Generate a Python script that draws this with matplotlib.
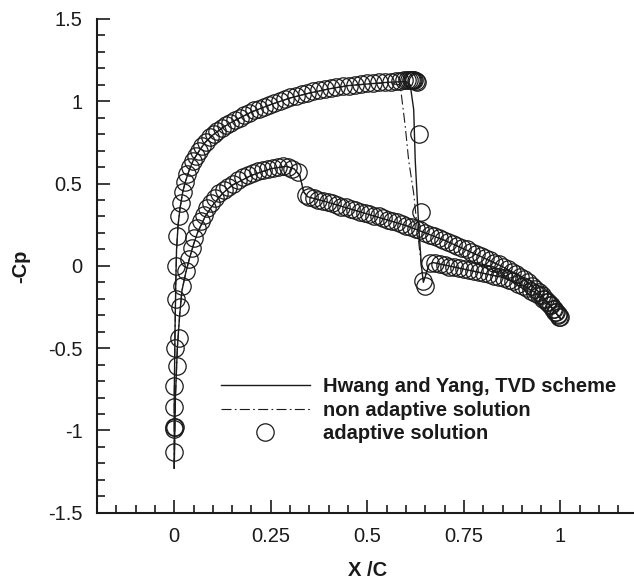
import matplotlib
matplotlib.use("Agg")
import matplotlib.pyplot as plt
from matplotlib.ticker import MultipleLocator, FixedLocator

plt.rcParams['font.family'] = ['Liberation Sans', 'DejaVu Sans']

# ---------------- data ----------------
# adaptive solution, upper (suction) surface
ad_up_x = [0.000, 0.000, 0.000, 0.002, 0.004, 0.005, 0.008, 0.012, 0.017, 0.022,
           0.028, 0.034, 0.041, 0.048, 0.056, 0.064, 0.073, 0.082, 0.092, 0.102,
           0.112, 0.123, 0.134, 0.145, 0.157, 0.169, 0.181, 0.193, 0.206, 0.219,
           0.232, 0.245, 0.259, 0.273, 0.287, 0.301, 0.315, 0.330, 0.345, 0.360,
           0.375, 0.390, 0.405, 0.420, 0.436, 0.452, 0.468, 0.484, 0.500, 0.515,
           0.530, 0.545, 0.560, 0.573, 0.585, 0.595, 0.603, 0.609, 0.613, 0.616,
           0.619, 0.622, 0.625, 0.628, 0.634, 0.639, 0.645, 0.650, 0.663, 0.675,
           0.688, 0.700, 0.712, 0.725, 0.738, 0.750, 0.763, 0.776, 0.789, 0.802,
           0.815, 0.828, 0.841, 0.854, 0.866, 0.878, 0.890, 0.902, 0.913, 0.924,
           0.935, 0.945, 0.955, 0.964, 0.972, 0.980, 0.987, 0.993, 0.997]
ad_up_cp = [-0.98, -0.86, -0.73, -0.50, -0.20, 0.00, 0.18, 0.30, 0.38, 0.45,
            0.51, 0.56, 0.60, 0.64, 0.67, 0.70, 0.73, 0.755, 0.78, 0.80,
            0.82, 0.84, 0.855, 0.87, 0.885, 0.90, 0.915, 0.93, 0.945, 0.955,
            0.965, 0.98, 0.99, 1.00, 1.015, 1.025, 1.035, 1.045, 1.05, 1.06,
            1.07, 1.075, 1.08, 1.085, 1.09, 1.095, 1.10, 1.105, 1.11, 1.112,
            1.115, 1.118, 1.12, 1.122, 1.125, 1.127, 1.128, 1.13, 1.13, 1.13,
            1.13, 1.128, 1.125, 1.12, 0.80, 0.33, -0.09, -0.12, 0.02, 0.02,
            0.01, 0.005, -0.005, -0.01, -0.015, -0.02, -0.025, -0.03, -0.04, -0.045,
            -0.05, -0.06, -0.065, -0.075, -0.085, -0.095, -0.11, -0.12, -0.135, -0.15,
            -0.165, -0.18, -0.20, -0.22, -0.24, -0.26, -0.28, -0.30, -0.31]

# adaptive solution, lower (pressure) surface
ad_lo_x = [0.000, 0.000, 0.001, 0.006, 0.012, 0.016, 0.021, 0.030, 0.038, 0.045,
           0.052, 0.060, 0.068, 0.077, 0.086, 0.096, 0.106, 0.117, 0.128, 0.140,
           0.152, 0.164, 0.177, 0.190, 0.203, 0.216, 0.229, 0.242, 0.255, 0.268,
           0.281, 0.294, 0.306, 0.320, 0.340, 0.350, 0.361, 0.373, 0.385, 0.397,
           0.409, 0.421, 0.433, 0.445, 0.457, 0.469, 0.481, 0.493, 0.505, 0.517,
           0.529, 0.541, 0.553, 0.565, 0.577, 0.589, 0.601, 0.613, 0.625, 0.637,
           0.649, 0.661, 0.673, 0.685, 0.697, 0.709, 0.721, 0.733, 0.745, 0.757,
           0.769, 0.781, 0.793, 0.805, 0.817, 0.829, 0.841, 0.852, 0.863, 0.874,
           0.885, 0.896, 0.906, 0.916, 0.926, 0.935, 0.944, 0.953, 0.961, 0.969,
           0.976, 0.983, 0.989, 0.994, 0.998]
ad_lo_cp = [-1.13, -0.99, -0.98, -0.61, -0.44, -0.25, -0.12, -0.03, 0.04, 0.11,
            0.17, 0.23, 0.27, 0.31, 0.35, 0.38, 0.41, 0.44, 0.46, 0.48,
            0.50, 0.52, 0.54, 0.555, 0.565, 0.575, 0.585, 0.59, 0.595, 0.60,
            0.605, 0.60, 0.59, 0.57, 0.43, 0.42, 0.41, 0.40, 0.395, 0.385,
            0.38, 0.37, 0.36, 0.355, 0.345, 0.34, 0.33, 0.32, 0.315, 0.305,
            0.30, 0.29, 0.28, 0.27, 0.265, 0.255, 0.245, 0.235, 0.225, 0.215,
            0.20, 0.19, 0.18, 0.17, 0.16, 0.145, 0.135, 0.12, 0.11, 0.10,
            0.085, 0.075, 0.06, 0.05, 0.035, 0.02, 0.01, -0.005, -0.02, -0.035,
            -0.05, -0.065, -0.08, -0.10, -0.12, -0.14, -0.16, -0.18, -0.20, -0.22,
            -0.24, -0.26, -0.28, -0.295, -0.31]

# Hwang and Yang, TVD scheme
hy_up_x = [0.000, 0.000, 0.002, 0.004, 0.006, 0.010, 0.015, 0.022, 0.030, 0.040,
           0.050, 0.065, 0.080, 0.100, 0.125, 0.150, 0.200, 0.250, 0.300, 0.350,
           0.400, 0.450, 0.500, 0.550, 0.600, 0.611, 0.620, 0.624, 0.633, 0.640,
           0.645, 0.652, 0.660, 0.670, 0.700, 0.750, 0.800, 0.850, 0.900, 0.940,
           0.970, 1.000]
hy_up_cp = [-1.23, -0.80, -0.40, -0.10, 0.10, 0.25, 0.35, 0.45, 0.52, 0.59,
            0.645, 0.70, 0.75, 0.795, 0.84, 0.875, 0.935, 0.98, 1.02, 1.05,
            1.075, 1.095, 1.105, 1.115, 1.12, 1.10, 0.95, 0.64, 0.24, 0.00,
            -0.10, -0.05, 0.01, 0.02, 0.005, -0.02, -0.045, -0.07, -0.115, -0.17,
            -0.235, -0.32]
hy_lo_x = [0.000, 0.003, 0.008, 0.014, 0.020, 0.030, 0.040, 0.050, 0.060, 0.080,
           0.100, 0.125, 0.150, 0.200, 0.250, 0.290, 0.310, 0.325, 0.335, 0.345,
           0.400, 0.500, 0.600, 0.700, 0.800, 0.850, 0.900, 0.940, 0.970, 1.000]
hy_lo_cp = [-1.23, -0.80, -0.50, -0.30, -0.15, -0.04, 0.05, 0.13, 0.20, 0.30,
            0.37, 0.44, 0.49, 0.55, 0.59, 0.605, 0.59, 0.55, 0.45, 0.42,
            0.385, 0.315, 0.245, 0.155, 0.05, -0.005, -0.07, -0.15, -0.23, -0.32]

# non adaptive solution
na_up_x = [0.000, 0.000, 0.002, 0.004, 0.006, 0.010, 0.015, 0.022, 0.030, 0.040,
           0.050, 0.065, 0.080, 0.100, 0.125, 0.150, 0.200, 0.250, 0.300, 0.350,
           0.400, 0.450, 0.500, 0.550, 0.585, 0.598, 0.607, 0.620, 0.627, 0.635,
           0.642, 0.652, 0.660, 0.670, 0.700, 0.750, 0.800, 0.850, 0.900, 0.940,
           0.970, 1.000]
na_up_cp = [-1.23, -0.80, -0.40, -0.10, 0.10, 0.25, 0.35, 0.45, 0.52, 0.59,
            0.645, 0.70, 0.75, 0.795, 0.84, 0.875, 0.935, 0.98, 1.02, 1.05,
            1.075, 1.095, 1.105, 1.112, 1.10, 0.85, 0.64, 0.44, 0.28, 0.10,
            -0.05, -0.05, 0.01, 0.02, 0.005, -0.02, -0.045, -0.07, -0.115, -0.17,
            -0.235, -0.32]
na_lo_x = [0.000, 0.003, 0.008, 0.014, 0.020, 0.030, 0.040, 0.050, 0.060, 0.080,
           0.100, 0.125, 0.150, 0.200, 0.250, 0.290, 0.310, 0.325, 0.335, 0.345,
           0.400, 0.500, 0.600, 0.700, 0.800, 0.850, 0.900, 0.940, 0.970, 1.000]
na_lo_cp = [-1.23, -0.80, -0.50, -0.30, -0.15, -0.04, 0.05, 0.13, 0.20, 0.30,
            0.37, 0.44, 0.49, 0.55, 0.59, 0.605, 0.59, 0.55, 0.45, 0.42,
            0.385, 0.315, 0.245, 0.155, 0.05, -0.005, -0.07, -0.15, -0.23, -0.32]

x_ticks = [0, 0.25, 0.5, 0.75, 1]
x_tick_labels = ['0', '0.25', '0.5', '0.75', '1']
y_ticks = [-1.5, -1, -0.5, 0, 0.5, 1, 1.5]
y_tick_labels = ['-1.5', '-1', '-0.5', '0', '0.5', '1', '1.5']

legend_labels = ['Hwang and Yang, TVD scheme', 'non adaptive solution', 'adaptive solution']

# ---------------- figure ----------------
W, H = 634, 582
fig = plt.figure(figsize=(W / 100, H / 100), dpi=100)
ax_l, ax_r, ax_t, ax_b = 97, 637.7, 19, 512.7
ax = fig.add_axes([ax_l / W, 1 - ax_b / H, (ax_r - ax_l) / W, (ax_b - ax_t) / H])
aw, ah = ax_r - ax_l, ax_b - ax_t

ink = '#1a1a1a'
ln_hy, = ax.plot(hy_up_x, hy_up_cp, '-', color=ink, lw=1.0, zorder=3)
ax.plot(hy_lo_x, hy_lo_cp, '-', color=ink, lw=1.0, zorder=3)
ln_na, = ax.plot(na_up_x, na_up_cp, color=ink, lw=0.8, dashes=(9, 3, 1.5, 3), zorder=3)
ax.plot(na_lo_x, na_lo_cp, color=ink, lw=0.8, dashes=(9, 3, 1.5, 3), zorder=3)
mk_kw = dict(ls='none', marker='o', ms=12.5, mfc='none', mec=ink, mew=0.9, zorder=4)
ln_ad, = ax.plot(ad_up_x, ad_up_cp, **mk_kw)
ax.plot(ad_lo_x, ad_lo_cp, **mk_kw)

ax.set_xlim(-0.2, 1.2)
ax.set_ylim(-1.5, 1.5)
ax.xaxis.set_major_locator(FixedLocator(x_ticks))
ax.set_xticklabels(x_tick_labels)
ax.yaxis.set_major_locator(FixedLocator(y_ticks))
ax.set_yticklabels(y_tick_labels)
ax.xaxis.set_minor_locator(MultipleLocator(0.05))
ax.yaxis.set_minor_locator(MultipleLocator(0.1))

for s in ['top', 'right']:
    ax.spines[s].set_visible(False)
for s in ['left', 'bottom']:
    ax.spines[s].set_linewidth(1.5)
    ax.spines[s].set_color(ink)

fs = 14.5
ax.tick_params(which='major', direction='in', length=9.5, width=1.2, color=ink,
               labelsize=fs, pad=10.5, labelcolor=ink)
ax.tick_params(which='minor', direction='in', length=5.5, width=1.2, color=ink)

ax.set_xlabel('X /C', fontsize=fs, fontweight='bold', color=ink)
ax.set_ylabel('-Cp', fontsize=fs, fontweight='bold', color=ink)
ax.xaxis.set_label_coords((368 - ax_l) / aw, -(561 - ax_b) / ah)
ax.yaxis.set_label_coords(-(97 - 30) / aw, 0.5)

leg = ax.legend([ln_hy, ln_na, ln_ad], legend_labels, loc='upper left',
                bbox_to_anchor=((221 - ax_l) / aw, 1 - (377 - ax_t) / ah),
                frameon=False, handlelength=4.4, handletextpad=0.68, labelspacing=0.23,
                borderaxespad=0, borderpad=0,
                prop=dict(size=fs, weight='bold'))
for t in leg.get_texts():
    t.set_color(ink)

fig.savefig('out.png', dpi=100)
